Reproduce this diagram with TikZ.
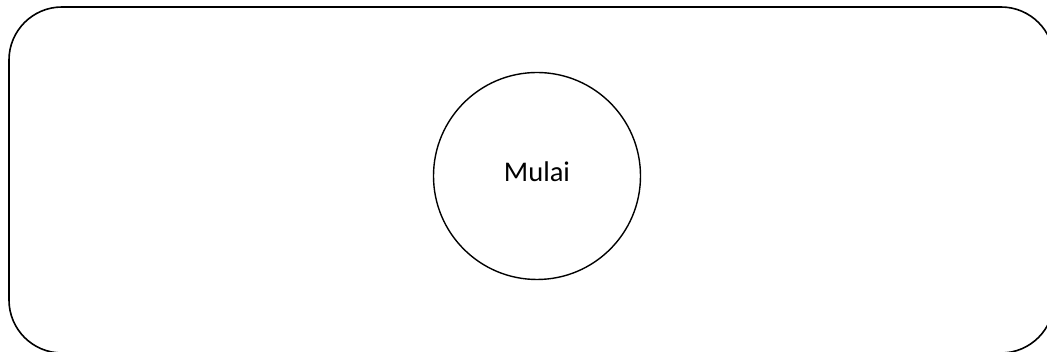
\documentclass[tikz,border=0pt]{standalone}
\usepackage{fontspec}
\setmainfont{Carlito}
\tikzset{
  frame/.style={draw=black, line width=1.6pt, rounded corners=53pt},
  startcircle/.style={draw=black, line width=1.4pt, circle, minimum size=207pt, inner sep=0pt},
  caption/.style={font=\fontsize{28.5pt}{34pt}\selectfont, inner sep=0pt}
}
\begin{document}
\begin{tikzpicture}[x=1pt, y=1pt]
  \useasboundingbox (0,0) rectangle (1047,352);
  \clip (0,0) rectangle (1047,352);
  % outer rounded panel
  \draw[frame] (9,-1) rectangle (1054,345);
  % start terminal
  \node[startcircle] (start) at (537,176) {};
  \node[caption] (startlabel) at (537,180) {Mulai};
\end{tikzpicture}
\end{document}
